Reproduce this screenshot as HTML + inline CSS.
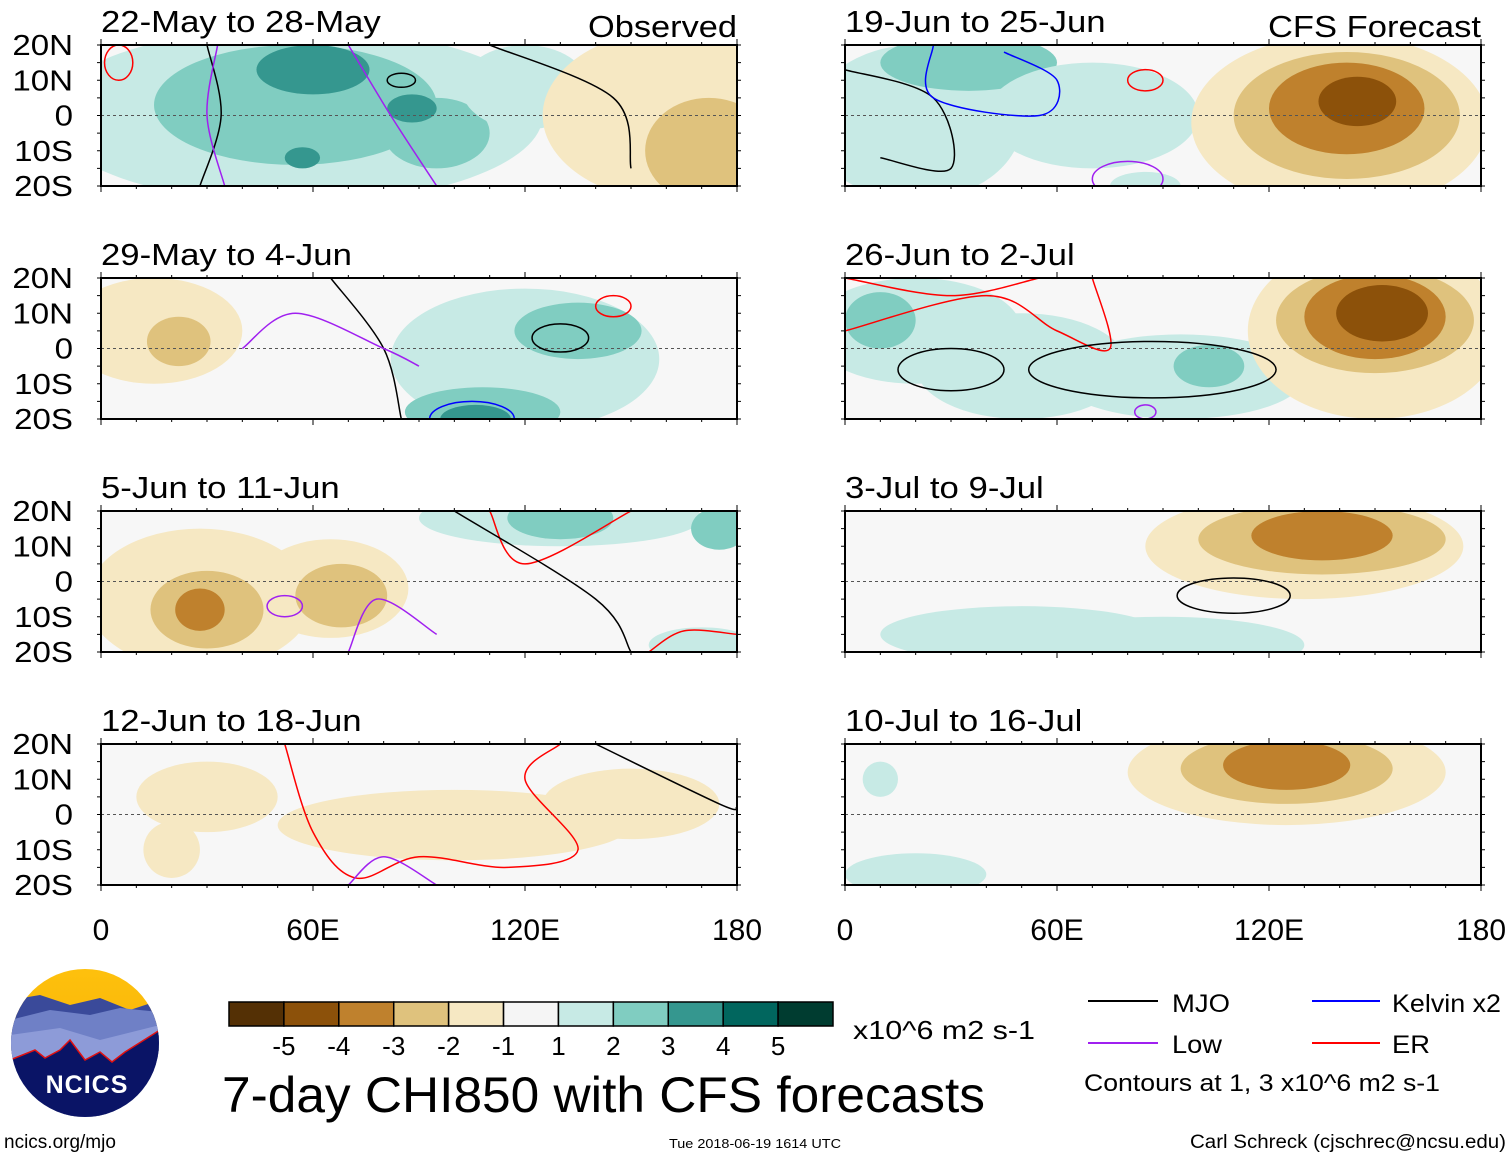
<!DOCTYPE html>
<html><head><meta charset="utf-8">
<style>
html,body{margin:0;padding:0;background:#fff;}
svg{display:block;font-family:"Liberation Sans",Arial,sans-serif;}
</style></head>
<body>
<svg id="fig" width="1510" height="1158" viewBox="0 0 1510 1158" xmlns="http://www.w3.org/2000/svg">
<defs>
<linearGradient id="sky" x1="0" y1="0" x2="0" y2="1"><stop offset="0" stop-color="#ffc20e"/><stop offset="1" stop-color="#f0a800"/></linearGradient>
<clipPath id="logoclip"><circle cx="85" cy="1043" r="74"/></clipPath>
</defs>
<g id="panels"></g>
<g id="logo" clip-path="url(#logoclip)">
<rect x="0" y="960" width="170" height="170" fill="url(#sky)"/>
<path d="M10,1000 L40,995 L70,1005 L100,998 L130,1010 L160,1000 L160,1130 L10,1130Z" fill="#3a4a9a"/>
<path d="M10,1020 L50,1010 L90,1015 L120,1008 L160,1012 L160,1130 L10,1130Z" fill="#6f80c6"/>
<path d="M10,1035 L60,1028 L100,1040 L160,1025 L160,1130 L10,1130Z" fill="#8d9bd8"/>
<path d="M10,1060 L35,1050 L45,1058 L60,1050 L70,1040 L85,1060 L100,1052 L112,1062 L125,1052 L160,1030 L160,1130 L10,1130Z" fill="#0a1466" stroke="#e01010" stroke-width="1.5"/>
<text x="87" y="1093" text-anchor="middle" font-size="25" font-weight="bold" fill="#fff" letter-spacing="1">NCICS</text>
</g>
<text x="4" y="1148" font-size="19">ncics.org/mjo</text>
<g id="colorbar"></g>
<text x="853" y="1039" font-size="26" textLength="182" lengthAdjust="spacingAndGlyphs">x10^6 m2 s-1</text>
<text x="222" y="1112" font-size="50" textLength="763" lengthAdjust="spacingAndGlyphs">7-day CHI850 with CFS forecasts</text>
<text x="755" y="1148" font-size="13" text-anchor="middle" textLength="172" lengthAdjust="spacingAndGlyphs">Tue 2018-06-19 1614 UTC</text>
<text x="1190" y="1148" font-size="19" textLength="316" lengthAdjust="spacingAndGlyphs">Carl Schreck (cjschrec@ncsu.edu)</text>
<g>
<line x1="1088" y1="1001" x2="1158" y2="1001" stroke="#000" stroke-width="2"/><text x="1172" y="1012" font-size="25" textLength="58" lengthAdjust="spacingAndGlyphs">MJO</text>
<line x1="1312" y1="1001" x2="1380" y2="1001" stroke="#0000ff" stroke-width="2"/><text x="1392" y="1012" font-size="25" textLength="109" lengthAdjust="spacingAndGlyphs">Kelvin x2</text>
<line x1="1088" y1="1043" x2="1158" y2="1043" stroke="#a020f0" stroke-width="2"/><text x="1172" y="1053" font-size="25" textLength="50" lengthAdjust="spacingAndGlyphs">Low</text>
<line x1="1312" y1="1043" x2="1380" y2="1043" stroke="#ff0000" stroke-width="2"/><text x="1392" y="1053" font-size="25" textLength="38" lengthAdjust="spacingAndGlyphs">ER</text>
<text x="1084" y="1091" font-size="24" textLength="356" lengthAdjust="spacingAndGlyphs">Contours at 1, 3 x10^6 m2 s-1</text>
</g>
</svg>
<script>
const NS="http://www.w3.org/2000/svg";
const cbLevels=["-5","-4","-3","-2","-1","1","2","3","4","5"];
const cbColors=["#543005","#8c510a","#bf812d","#dfc27d","#f6e8c3","#f5f5f5","#c7eae5","#80cdc1","#35978f","#01665e","#003c30"];
const latTicks=["20N","10N","0","10S","20S"];
const lonTicks=["0","60E","120E","180"];
const titles=["22-May to 28-May","29-May to 4-Jun","5-Jun to 11-Jun","12-Jun to 18-Jun","19-Jun to 25-Jun","26-Jun to 2-Jul","3-Jul to 9-Jul","10-Jul to 16-Jul"];
// blobs: [lonCenter, latCenter, lonRadius, latRadius, level]
const blobs=[
 [[55,0,70,25,1],[55,3,40,17,2],[95,-5,15,10,2],[60,13,16,7,3],[57,-12,5,3,3],[88,2,7,4,3],[120,8,18,12,1],[165,0,40,25,-1],[172,-10,18,15,-2]],
 [[15,5,25,15,-1],[22,2,9,7,-2],[120,-3,38,20,1],[135,5,18,8,2],[108,-18,22,7,2],[106,-20,10,4,3]],
 [[28,-5,32,20,-1],[65,-2,22,14,-1],[30,-8,16,11,-2],[68,-4,13,9,-2],[28,-8,7,6,-3],[130,18,40,8,1],[130,18,15,6,2],[175,15,8,6,2],[170,-18,15,5,1]],
 [[30,5,20,10,-1],[100,-3,50,10,-1],[150,3,25,10,-1],[20,-10,8,8,-1]],
 [[20,-2,30,22,1],[35,15,25,8,2],[70,0,30,15,1],[85,-20,10,4,1],[140,-2,42,25,-1],[142,0,32,18,-2],[142,2,22,13,-3],[145,4,11,7,-4]],
 [[20,5,30,15,1],[50,-5,30,15,1],[95,-8,35,12,1],[103,-5,10,6,2],[10,8,10,8,2],[150,5,36,25,-1],[150,8,28,15,-2],[150,9,20,12,-3],[152,10,13,8,-4]],
 [[50,-15,40,8,1],[90,-18,40,8,1],[130,10,45,15,-1],[135,12,35,10,-2],[135,13,20,7,-3]],
 [[10,10,5,5,1],[20,-17,20,6,1],[125,12,45,15,-1],[125,13,30,10,-2],[125,14,18,7,-3]]
];
// contours: [colour, points (lon,lat pairs)] or ellipses [colour, lon, lat, rlon, rlat]
const contours=[
 [["#000",[[30,20],[34,0],[28,-20]]],["#a020f0",[[33,20],[30,0],[35,-20]]],["#a020f0",[[70,20],[82,0],[95,-20]]],["#000",[[110,20],[145,5],[150,-15]]],["#000",85,10,4,2],["#ff0000",5,15,4,5]],
 [["#000",[[65,20],[80,0],[85,-20]]],["#a020f0",[[40,0],[55,10],[80,0],[90,-5]]],["#0000ff",105,-20,12,5],["#000",130,3,8,4],["#ff0000",145,12,5,3]],
 [["#ff0000",[[110,20],[120,5],[150,20]]],["#000",[[100,20],[140,-5],[150,-20]]],["#a020f0",[[70,-20],[78,-5],[95,-15]]],["#a020f0",52,-7,5,3],["#ff0000",[[155,-20],[165,-14],[180,-15]]]],
 [["#ff0000",[[52,20],[60,-5],[72,-18],[90,-12],[115,-15],[135,-10],[120,10],[130,20]]],["#000",[[140,20],[175,3],[180,2]]],["#a020f0",[[70,-20],[80,-12],[95,-20]]]],
 [["#000",[[0,13],[25,5],[30,-15],[10,-12]]],["#0000ff",[[25,20],[25,5],[55,0],[60,10],[45,18]]],["#a020f0",80,-18,10,5],["#ff0000",85,10,5,3]],
 [["#ff0000",[[0,5],[40,15],[60,5],[75,0],[70,20]]],["#ff0000",[[0,20],[30,15],[55,20]]],["#000",30,-6,15,6],["#000",87,-6,35,8],["#a020f0",85,-18,3,2]],
 [["#000",110,-4,16,5]],
 []
];
function el(tag,attrs,parent){const e=document.createElementNS(NS,tag);for(const k in attrs)e.setAttribute(k,attrs[k]);parent.appendChild(e);return e;}
function smooth(pts){let d='M'+pts[0][0]+','+pts[0][1];
 for(let i=0;i<pts.length-1;i++){const p0=pts[Math.max(i-1,0)],p1=pts[i],p2=pts[i+1],p3=pts[Math.min(i+2,pts.length-1)];
  d+=' C'+(p1[0]+(p2[0]-p0[0])/6)+','+(p1[1]+(p2[1]-p0[1])/6)+' '+(p2[0]-(p3[0]-p1[0])/6)+','+(p2[1]-(p3[1]-p1[1])/6)+' '+p2[0]+','+p2[1];}
 return d;}
const panelsG=document.getElementById('panels');
const lefts=[101,845], tops=[45,278,511,744], W=636, H=141;
const levelColor=l=>cbColors[l+5];
for(let p=0;p<8;p++){
 const col=Math.floor(p/4),row=p%4,x0=lefts[col],y0=tops[row];
 const X=lon=>x0+lon/180*W, Y=lat=>y0+(20-lat)/40*H;
 const g=el('g',{},panelsG);
 
 
 const cid='clip'+p;
 const cp=el('clipPath',{id:cid},g);el('rect',{x:x0,y:y0,width:W,height:H},cp);
 el('rect',{x:x0,y:y0,width:W,height:H,fill:'#f7f7f7'},g);
 const inner=el('g',{'clip-path':'url(#'+cid+')'},g);
 blobs[p].forEach(b=>{const e=el('ellipse',{cx:X(b[0]),cy:Y(b[1]),rx:b[2]/180*W,ry:b[3]/40*H,fill:levelColor(b[4])},inner);
  });
 el('line',{x1:x0,y1:Y(0),x2:x0+W,y2:Y(0),stroke:'#555','stroke-dasharray':'3,3','stroke-width':1},inner);
 contours[p].forEach(c=>{let e;
  if(Array.isArray(c[1])){e=el('path',{d:smooth(c[1].map(q=>[X(q[0]),Y(q[1])])),fill:'none',stroke:c[0],'stroke-width':1.5},inner);}
  else e=el('ellipse',{cx:X(c[1]),cy:Y(c[2]),rx:c[3]/180*W,ry:c[4]/40*H,fill:'none',stroke:c[0],'stroke-width':1.5},inner);
  });
 el('rect',{x:x0,y:y0,width:W,height:H,fill:'none',stroke:'#000','stroke-width':2},g);
 for(let lon=0;lon<=180;lon+=10){const len=lon%60==0?6:3;
  el('line',{x1:X(lon),y1:y0,x2:X(lon),y2:y0-len,stroke:'#000'},g);el('line',{x1:X(lon),y1:y0+H,x2:X(lon),y2:y0+H+len,stroke:'#000'},g);}
 for(let lat=-20;lat<=20;lat+=5){el('line',{x1:x0,y1:Y(lat),x2:x0-4,y2:Y(lat),stroke:'#000'},g);el('line',{x1:x0+W,y1:Y(lat),x2:x0+W+4,y2:Y(lat),stroke:'#000'},g);}
 const t=el('text',{x:x0,y:y0-(row==0?13:13),'font-size':31},g);t.textContent=titles[p];
 
 const tl=t.getComputedTextLength();t.setAttribute('textLength',tl*1.12);t.setAttribute('lengthAdjust','spacingAndGlyphs');
 if(col==0){latTicks.forEach((l,i)=>{const tt=el('text',{x:73,y:y0+i*H/4+10,'font-size':29,'text-anchor':'end'},g);tt.textContent=l;
  
  const w=tt.getComputedTextLength();tt.setAttribute('textLength',w*1.14);tt.setAttribute('lengthAdjust','spacingAndGlyphs');});}
 if(row==0){const h=el('text',{x:x0+W,y:y0-8,'font-size':31,'text-anchor':'end'},g);h.textContent=col==0?'Observed':'CFS Forecast';
  
  h.setAttribute('textLength',col==0?149:213);h.setAttribute('lengthAdjust','spacingAndGlyphs');}
 if(row==3){lonTicks.forEach((l,i)=>{const tt=el('text',{x:x0+i*W/3,y:940,'font-size':30,'text-anchor':'middle'},g);tt.textContent=l;
  });}
}
const cb=document.getElementById('colorbar');
const bw=(833-229)/cbColors.length;
cbColors.forEach((c,i)=>{const r=el('rect',{x:229+i*bw,y:1002,width:bw,height:24,fill:c,stroke:'#000','stroke-width':1.5},cb);
 });
cbLevels.forEach((l,i)=>{const t=el('text',{x:229+(i+1)*bw,y:1055,'font-size':26,'text-anchor':'middle'},cb);t.textContent=l;
 });
</script>
</body></html>
